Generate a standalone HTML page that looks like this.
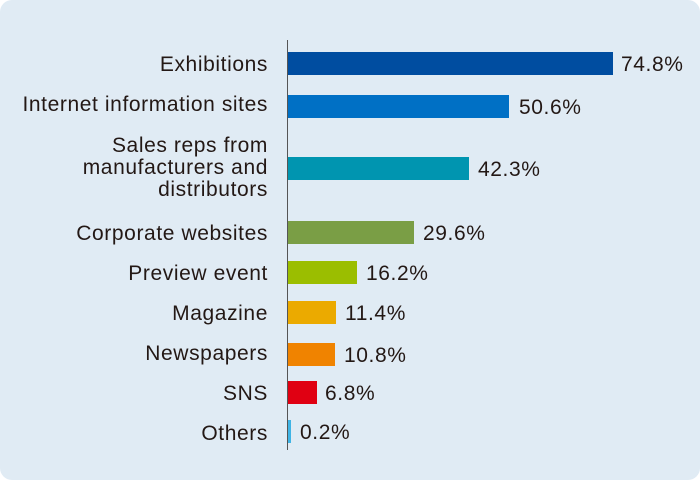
<!DOCTYPE html>
<html><head><meta charset="utf-8"><style>
body{margin:0;background:#fff;}
.c{position:relative;width:700px;height:480px;background:#e0ebf4;border-radius:12px;overflow:hidden;font-family:"Liberation Sans","Noto Sans CJK JP",sans-serif;color:#231815;font-size:21px;letter-spacing:0.6px;}
.ax{position:absolute;left:287px;top:40px;width:1px;height:410px;background:#555;}
.b{position:absolute;left:288px;height:23px;}
.l{position:absolute;right:432px;text-align:right;line-height:22px;white-space:nowrap;}
.v{position:absolute;line-height:22px;}
</style></head><body><div class="c">
<div class="ax"></div>
<div class="b" style="top:52px;width:325px;background:#004da0"></div>
<div class="l" style="top:54px">Exhibitions</div><div class="v" style="left:621px;top:54px">74.8%</div>
<div class="b" style="top:95px;width:221px;background:#0070c5"></div>
<div class="l" style="top:94px">Internet information sites</div><div class="v" style="left:519px;top:97px">50.6%</div>
<div class="b" style="top:157px;width:181px;background:#0095b0"></div>
<div class="l" style="top:135px">Sales reps from<br>manufacturers and<br>distributors</div><div class="v" style="left:478px;top:159px">42.3%</div>
<div class="b" style="top:221px;width:126px;background:#7a9e45"></div>
<div class="l" style="top:223px">Corporate websites</div><div class="v" style="left:423px;top:223px">29.6%</div>
<div class="b" style="top:261px;width:69px;background:#9bbe00"></div>
<div class="l" style="top:263px">Preview event</div><div class="v" style="left:366px;top:263px">16.2%</div>
<div class="b" style="top:301px;width:48px;background:#ebaa00"></div>
<div class="l" style="top:303px">Magazine</div><div class="v" style="left:345px;top:303px">11.4%</div>
<div class="b" style="top:343px;width:47px;background:#f08300"></div>
<div class="l" style="top:343px">Newspapers</div><div class="v" style="left:344px;top:345px">10.8%</div>
<div class="b" style="top:381px;width:29px;background:#e00012"></div>
<div class="l" style="top:383px">SNS</div><div class="v" style="left:325px;top:383px">6.8%</div>
<div class="b" style="top:420px;width:3px;background:#3fb4e5"></div>
<div class="l" style="top:423px">Others</div><div class="v" style="left:300px;top:422px">0.2%</div>
</div></body></html>
